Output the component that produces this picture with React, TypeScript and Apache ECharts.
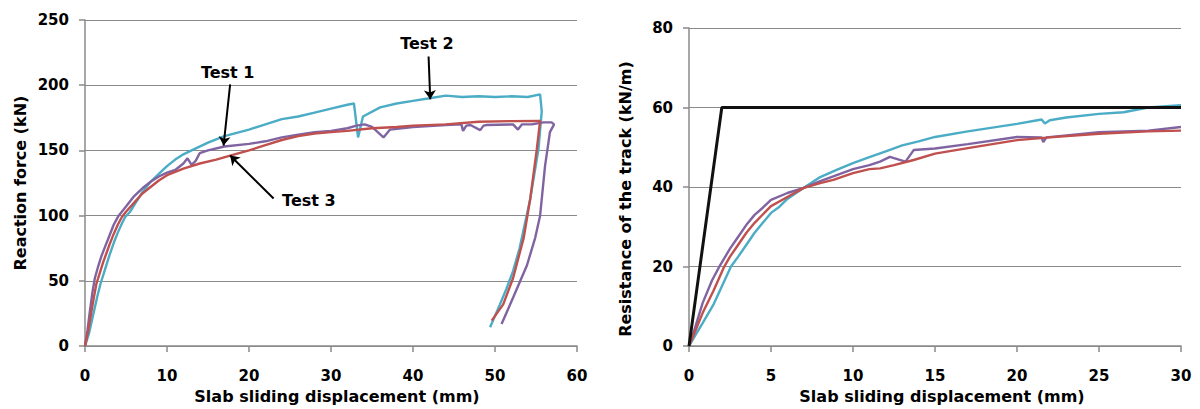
import React, { useEffect, useRef } from "react";
import * as echarts from "echarts";

// ---------- Left chart: reaction force vs slab sliding displacement ----------
const leftXTicks = [0, 10, 20, 30, 40, 50, 60];
const leftYTicks = [0, 50, 100, 150, 200, 250];

const test1Force: [number, number][] = [
  [0, 0], [0.3, 12], [0.6, 27], [0.9, 41], [1.2, 52], [1.6, 61], [2, 69], [2.5, 77], [3, 85], [3.5, 93],
  [4.1, 100], [5, 107], [5.5, 111], [6, 115], [7, 121], [8, 126], [9, 130], [10, 133], [11, 135], [12, 140],
  [12.5, 144], [13, 139], [13.5, 142], [14, 148], [15, 150], [17, 153], [20, 155], [22, 157], [24, 160],
  [26, 162], [28, 164], [30, 165], [32, 167], [33.1, 169], [34.1, 170], [35, 168], [36.4, 160],
  [37.2, 166], [40, 168], [44, 169.5], [45.9, 170], [46.1, 165], [46.5, 169], [47, 169.5], [48.2, 165.6],
  [48.6, 169], [49, 169.5], [52.2, 170], [52.8, 166], [53.3, 170], [54.5, 170], [55.9, 171.5],
  [56.9, 171.5], [57.2, 170], [56.7, 164], [56.1, 138], [55.5, 100], [54.9, 83], [53.9, 62], [52.2, 37],
  [50.8, 17],
];

const test2Force: [number, number][] = [
  [0, 0], [0.5, 10], [1, 24], [1.5, 38], [1.9, 48], [2.3, 56], [2.7, 64], [3, 70], [3.5, 79], [4, 87],
  [4.5, 94], [4.9, 99], [5.5, 103], [6, 108], [7, 118], [8, 126], [9, 132], [10, 138], [11, 143],
  [12, 147], [13, 150], [15, 156], [17, 161], [20, 166], [22, 170], [24, 174], [26, 176], [28, 179],
  [30, 182], [32, 185], [32.8, 186], [33.3, 160], [33.9, 176], [36, 183], [38, 186], [40, 188],
  [42, 190], [44, 192], [46, 191], [48, 191.5], [50, 191], [52, 191.5], [54, 191], [55.5, 193],
  [55.7, 180], [55.3, 151], [54.3, 113], [53, 75], [52.2, 57.5], [51.4, 44], [50.6, 32], [49.4, 14.4],
];

const test3Force: [number, number][] = [
  [0, 0], [0.4, 12], [0.8, 27], [1.1, 38], [1.4, 48], [1.8, 56], [2.2, 64], [2.6, 71], [3, 78],
  [3.5, 86], [4, 93], [4.5, 99], [5, 103], [6, 110], [7, 117], [8, 122], [9, 127], [10, 131], [12, 136],
  [14, 140], [16, 143], [17.7, 146], [20, 150], [22, 154], [24, 158], [26, 161], [28, 163], [30, 164],
  [32, 165], [35, 167], [38, 168], [40, 169], [44, 170], [48, 172], [52, 172.5], [55.5, 172.7],
  [55.1, 151], [54.3, 113], [53.5, 83], [52.2, 52], [51, 32], [49.6, 19.5],
];

// annotation labels and arrows (data coordinates)
const annotationLabels = [
  { name: "Test 1", coord: [17.4, 209.7] },
  { name: "Test 2", coord: [41.7, 232.3] },
  { name: "Test 3", coord: [27.3, 112] },
];
const annotationArrows = [
  { from: [17.7, 200.6], to: [16.9, 153.7] },
  { from: [41.9, 222], to: [42.1, 189.2] },
  { from: [23, 113.2], to: [17.7, 146.1] },
];

// ---------- Right chart: resistance of the track ----------
const rightXTicks = [0, 5, 10, 15, 20, 25, 30];
const rightYTicks = [0, 20, 40, 60, 80];

const test1Res: [number, number][] = [
  [0, 0], [0.4, 5], [0.83, 10.8], [1.4, 16.5], [1.85, 20], [2.5, 24.5], [3, 27.5], [3.5, 30.5], [4, 33],
  [4.5, 34.8], [5, 36.8], [6, 38.5], [7, 39.8], [8, 41.5], [8.8, 42.7], [10, 44.5], [11, 45.5],
  [11.65, 46.4], [12.25, 47.6], [13.2, 46.4], [13.7, 49.3], [15, 49.7], [17, 50.8], [20, 52.6],
  [21.5, 52.5], [21.6, 51.3], [21.8, 52.5], [25, 53.8], [28, 54.2], [30, 55.1],
];
const test2Res: [number, number][] = [
  [0, 0], [0.4, 2.8], [0.83, 5.8], [1.5, 10.5], [2, 15], [2.56, 20], [3, 22.5], [3.5, 25.5], [4, 28.5],
  [4.5, 31], [5, 33.5], [5.5, 35], [6, 37], [7, 39.8], [8, 42.5], [9, 44.3], [10, 46], [11, 47.5],
  [12, 49], [13, 50.5], [14, 51.5], [15, 52.6], [17, 54], [20, 55.9], [21.5, 57], [21.7, 56],
  [22, 56.8], [23, 57.5], [25, 58.4], [26.5, 58.8], [28, 60], [30, 60.6],
];
const test3Res: [number, number][] = [
  [0, 0], [0.4, 4], [0.83, 8.3], [1.5, 14], [2.15, 20], [2.5, 22.5], [3, 25.5], [3.5, 28.5], [4, 31],
  [4.5, 33.1], [5, 35.2], [6, 37.5], [7, 39.8], [8, 41], [8.8, 41.8], [10, 43.5], [11, 44.5],
  [11.65, 44.7], [12.5, 45.5], [13.7, 46.8], [15, 48.4], [17, 49.8], [20, 51.8], [22, 52.5],
  [25, 53.4], [28, 54], [30, 54.2],
];
const designModel: [number, number][] = [[0, 0], [2, 60], [30, 60]];

const COLORS = { test1: "#8064A2", test2: "#4BACC6", test3: "#C0504D", model: "#111111" };
const FONT = "DejaVu Sans";
const GRID_GRAY = "#8a8a8a";

function axisCommon() {
  return {
    axisLine: { show: true, lineStyle: { color: GRID_GRAY, width: 1.5 } },
    axisTick: { show: true, length: 6, lineStyle: { color: GRID_GRAY, width: 1.5 } },
    axisLabel: { color: "#000", fontFamily: FONT, fontWeight: "bold" as const, fontSize: 15 },
    nameTextStyle: { color: "#000", fontFamily: FONT, fontWeight: "bold" as const, fontSize: 16 },
    nameLocation: "middle" as const,
  };
}

export default function App() {
  const ref = useRef<HTMLDivElement>(null);
  useEffect(() => {
    if (!ref.current) return;
    const chart = echarts.init(ref.current, undefined, { renderer: "svg" });
    const line = (name: string, data: [number, number][], color: string, idx: number, width = 2.4) => ({
      name,
      type: "line" as const,
      xAxisIndex: idx,
      yAxisIndex: idx,
      data,
      showSymbol: false,
      symbol: "none",
      lineStyle: { color, width },
      itemStyle: { color },
      z: 2,
    });
    chart.setOption({
      animation: false,
      backgroundColor: "#fff",
      grid: [
        { left: 85, top: 20, width: 492, height: 329 },
        { left: 689, top: 28, width: 492, height: 322 },
      ],
      xAxis: [
        {
          ...axisCommon(),
          gridIndex: 0,
          type: "value",
          min: leftXTicks[0],
          max: leftXTicks[leftXTicks.length - 1],
          interval: 10,
          splitLine: { show: false },
          axisLabel: { ...axisCommon().axisLabel, margin: 22 },
          name: "Slab sliding displacement (mm)",
          nameGap: 38,
          nameTextStyle: { ...axisCommon().nameTextStyle, padding: [0, 0, 0, 12] },
        },
        {
          ...axisCommon(),
          gridIndex: 1,
          type: "value",
          min: rightXTicks[0],
          max: rightXTicks[rightXTicks.length - 1],
          interval: 5,
          splitLine: { show: false },
          axisLabel: { ...axisCommon().axisLabel, margin: 22 },
          name: "Slab sliding displacement (mm)",
          nameGap: 38,
          nameTextStyle: { ...axisCommon().nameTextStyle, padding: [0, 0, 0, 14] },
        },
      ],
      yAxis: [
        {
          ...axisCommon(),
          gridIndex: 0,
          type: "value",
          min: leftYTicks[0],
          max: leftYTicks[leftYTicks.length - 1],
          interval: 50,
          splitLine: { show: true, lineStyle: { color: GRID_GRAY, width: 1.2 } },
          axisLabel: { ...axisCommon().axisLabel, margin: 16 },
          name: "Reaction force (kN)",
          nameGap: 57,
        },
        {
          ...axisCommon(),
          gridIndex: 1,
          type: "value",
          min: rightYTicks[0],
          max: rightYTicks[rightYTicks.length - 1],
          interval: 20,
          splitLine: { show: true, lineStyle: { color: GRID_GRAY, width: 1.2 } },
          axisLabel: { ...axisCommon().axisLabel, margin: 16 },
          name: "Resistance of the track (kN/m)",
          nameGap: 56,
          nameTextStyle: { ...axisCommon().nameTextStyle, padding: [0, 24, 0, 0] },
        },
      ],
      series: [
        line("Test 2", test2Force, COLORS.test2, 0),
        line("Test 1", test1Force, COLORS.test1, 0),
        {
          ...line("Test 3", test3Force, COLORS.test3, 0),
          markLine: {
            silent: true,
            symbol: ["none", "arrow"],
            symbolSize: 9,
            lineStyle: { color: "#000", width: 2, type: "solid" },
            label: { show: false },
            emphasis: { disabled: true },
            z: 5,
            data: annotationArrows.map((a) => [{ coord: a.from }, { coord: a.to }]),
          },
          markPoint: {
            silent: true,
            symbol: "circle",
            symbolSize: 1,
            itemStyle: { color: "rgba(0,0,0,0)" },
            label: {
              show: true,
              position: "inside",
              formatter: "{b}",
              color: "#000",
              fontFamily: FONT,
              fontWeight: "bold",
              fontSize: 16,
            },
            z: 5,
            data: annotationLabels.map((l) => ({ name: l.name, coord: l.coord })),
          },
        },
        line("Test 2", test2Res, COLORS.test2, 1),
        line("Test 1", test1Res, COLORS.test1, 1),
        line("Test 3", test3Res, COLORS.test3, 1),
        line("Model", designModel, COLORS.model, 1, 3),
      ],
    });
    return () => chart.dispose();
  }, []);
  return (
    <div
      ref={ref}
      style={{ position: "absolute", left: 0, top: 0, width: 1200, height: 409, background: "#fff" }}
    />
  );
}
